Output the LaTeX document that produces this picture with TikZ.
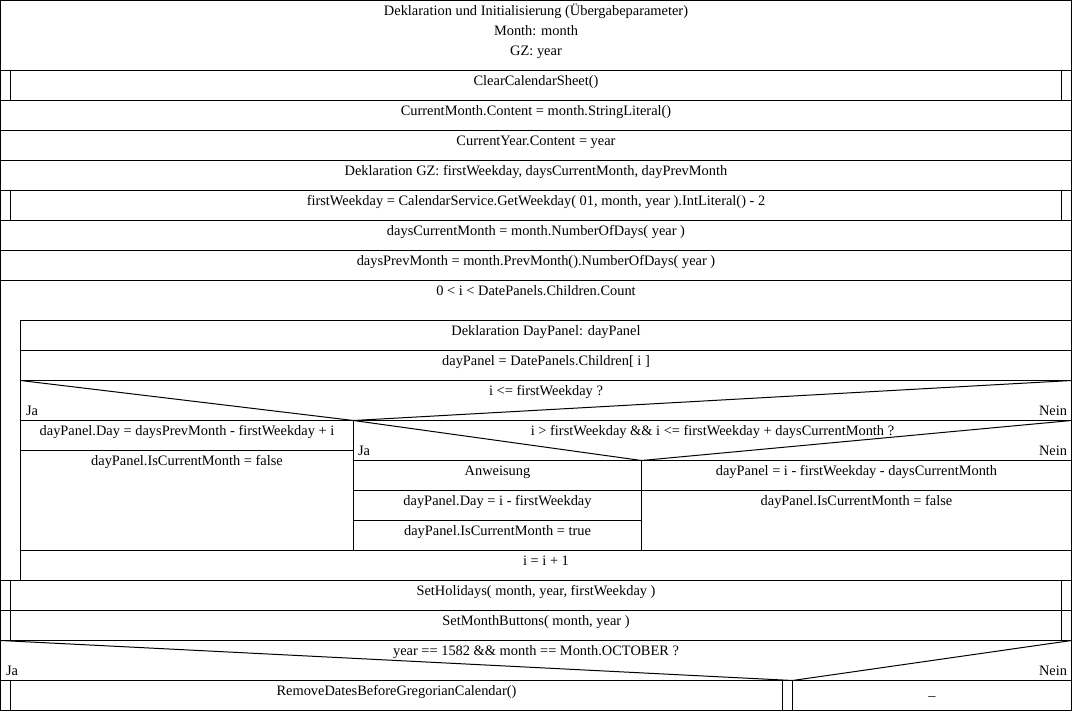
\documentclass[tikz,border=0pt]{standalone}
\usepackage{fontspec}
\setmainfont{Liberation Serif}
\begin{document}
\begin{tikzpicture}[x=1pt,y=-1pt,line width=1pt,
  txt/.style={anchor=base,inner sep=0pt,font=\fontsize{14.4}{20}\selectfont},
  jalbl/.style={anchor=base west,inner sep=0pt,font=\fontsize{14.4}{20}\selectfont},
  neinlbl/.style={anchor=base east,inner sep=0pt,font=\fontsize{14.4}{20}\selectfont}]
\useasboundingbox (0,0) rectangle (1072,711);
\begin{scope}[shift={(0.5,0.5)}]
% outer frame and full-width rows
\draw (0,0) rectangle (1071,710);
\foreach \y in {70,100,130,160,190,220,250,280,580,610,640,680}
  \draw (0,\y) -- (1071,\y);
% subroutine call bars
\foreach \ya/\yb in {70/100,190/220,580/640}{
  \draw (10,\ya) -- (10,\yb);
  \draw (1061,\ya) -- (1061,\yb);
}
% counting loop body
\draw (20,320) -- (1071,320);
\draw (20,320) -- (20,580);
\draw (20,350) -- (1071,350);
\draw (20,380) -- (1071,380);
% decision: i <= firstWeekday
\draw (20,380) -- (353,420) -- (1071,380);
\draw (20,420) -- (1071,420);
\draw (353,420) -- (353,550);
\draw (20,450) -- (353,450);
% nested decision
\draw (353,420) -- (641,460) -- (1071,420);
\draw (353,460) -- (1071,460);
\draw (641,460) -- (641,550);
\draw (353,490) -- (1071,490);
\draw (353,520) -- (641,520);
\draw (20,550) -- (1071,550);
% final decision
\draw (0,640) -- (792,680) -- (1071,640);
\draw (792,680) -- (792,710);
\draw (10,680) -- (10,710);
\draw (782,680) -- (782,710);

% texts
\node[txt] (decl1) at (535.5,15) {Deklaration und Initialisierung (Übergabeparameter)};
\node[txt] (decl2) at (535.5,35) {Month: month};
\node[txt] (decl3) at (535.5,55) {GZ: year};
\node[txt] (clear) at (535.5,85) {ClearCalendarSheet()};
\node[txt] (curm) at (535.5,115) {CurrentMonth.Content = month.StringLiteral()};
\node[txt] (cury) at (535.5,145) {CurrentYear.Content = year};
\node[txt] (declgz) at (535.5,175) {Deklaration GZ: firstWeekday, daysCurrentMonth, dayPrevMonth};
\node[txt] (fwd) at (535.5,205) {firstWeekday = CalendarService.GetWeekday( 01, month, year ).IntLiteral() - 2};
\node[txt] (dcm) at (535.5,235) {daysCurrentMonth = month.NumberOfDays( year )};
\node[txt] (dpm) at (535.5,265) {daysPrevMonth = month.PrevMonth().NumberOfDays( year )};
\node[txt] (loop) at (535.5,295) {0 < i < DatePanels.Children.Count};
\node[txt] (decldp) at (545.5,335) {Deklaration DayPanel: dayPanel};
\node[txt] (dp) at (545.5,365) {dayPanel = DatePanels.Children[ i ]};
\node[txt] (cond1) at (545.5,395) {i <= firstWeekday ?};
\node[jalbl] (ja1) at (25,415) {Ja};
\node[neinlbl] (nein1) at (1067,415) {Nein};
\node[txt] (prev1) at (186.5,435) {dayPanel.Day = daysPrevMonth - firstWeekday + i};
\node[txt] (prev2) at (186.5,465) {dayPanel.IsCurrentMonth = false};
\node[txt] (cond2) at (712,435) {i > firstWeekday \&\& i <= firstWeekday + daysCurrentMonth ?};
\node[jalbl] (ja2) at (357,455) {Ja};
\node[neinlbl] (nein2) at (1067,455) {Nein};
\node[txt] (cur0) at (497,475) {Anweisung};
\node[txt] (cur1) at (497,505) {dayPanel.Day = i - firstWeekday};
\node[txt] (cur2) at (497,535) {dayPanel.IsCurrentMonth = true};
\node[txt] (next1) at (856,475) {dayPanel = i - firstWeekday - daysCurrentMonth};
\node[txt] (next2) at (856,505) {dayPanel.IsCurrentMonth = false};
\node[txt] (inc) at (545.5,565) {i = i + 1};
\node[txt] (hol) at (535.5,595) {SetHolidays( month, year, firstWeekday )};
\node[txt] (btn) at (535.5,625) {SetMonthButtons( month, year )};
\node[txt] (cond3) at (535.5,655) {year == 1582 \&\& month == Month.OCTOBER ?};
\node[jalbl] (ja3) at (5,675) {Ja};
\node[neinlbl] (nein3) at (1067,675) {Nein};
\node[txt] (greg) at (396,695) {RemoveDatesBeforeGregorianCalendar()};
\node[txt] (none) at (931.5,695) {\_};
\end{scope}
\end{tikzpicture}
\end{document}
